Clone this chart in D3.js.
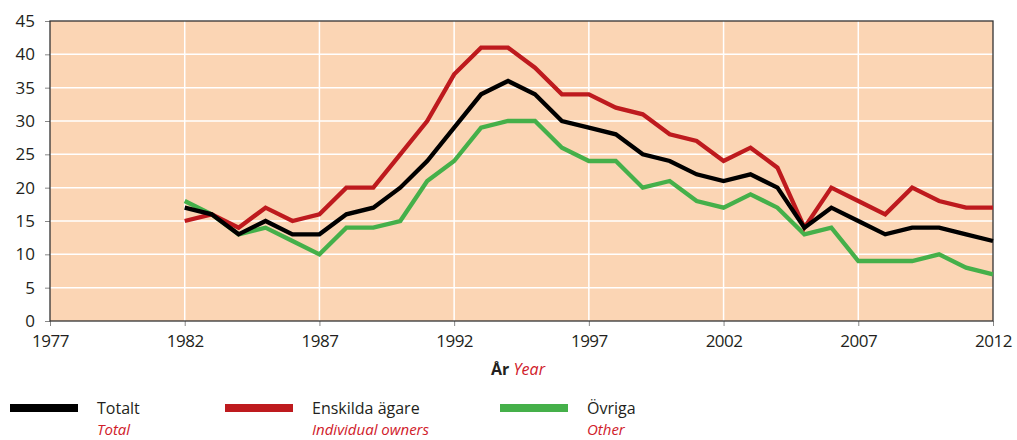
<!DOCTYPE html>
<html lang="sv">
<head>
<meta charset="UTF-8">
<title>Ägarkategorier</title>
<script src="https://cdn.jsdelivr.net/npm/d3@7"></script>
<style>
  body { margin:0; background:#fff; }
  text { font-family:"Open Sans", "DejaVu Sans", sans-serif; fill:#231f20; }
</style>
</head>
<body>
<div id="chart"></div>
<script>
// data
var years=[1982,1983,1984,1985,1986,1987,1988,1989,1990,1991,1992,1993,1994,1995,1996,1997,
           1998,1999,2000,2001,2002,2003,2004,2005,2006,2007,2008,2009,2010,2011,2012]
var totalt=[17,16,13,15,13,13,16,17,20,24,29,34,36,34,30,29,28,25,24,22,21,22,20,14,17,15,13,14,14,13,12]
var enskilda=[15,16,14,17,15,16,20,20,25,30,37,41,41,38,34,34,32,31,28,27,24,26,23,14,20,18,16,20,18,17,17]
var ovriga=[18,16,13,14,12,10,14,14,15,21,24,29,30,30,26,24,24,20,21,18,17,19,17,13,14,9,9,9,10,8,7]
var xTicks=[1977,1982,1987,1992,1997,2002,2007,2012]
var yTicks=[0,5,10,15,20,25,30,35,40,45]
var series=[
  {sv:'Totalt', en:'Total', vals:totalt, color:'#000000'},
  {sv:'Enskilda ägare', en:'Individual owners', vals:enskilda, color:'#be1a1e'},
  {sv:'Övriga', en:'Other', vals:ovriga, color:'#45b04a'}
]

var W=1017, H=440
var margin={top:21, right:24, bottom:119, left:50}
var w=W-margin.left-margin.right, h=H-margin.top-margin.bottom

var svg=d3.select('#chart').append('svg').attr('width',W).attr('height',H)
var g=svg.append('g').attr('transform','translate('+margin.left+','+margin.top+')')

var x=d3.scaleLinear().domain([1977,2012]).range([0,w])
var y=d3.scaleLinear().domain([0,45]).range([h,0])

// background
g.append('rect').attr('width',w).attr('height',h).attr('fill','#fbd5b4')

// grid
g.selectAll('.hgrid').data(yTicks.filter(function(d){return d>0 && d<45}))
  .enter().append('line')
  .attr('x1',0).attr('x2',w)
  .attr('y1',function(d){return y(d)}).attr('y2',function(d){return y(d)})
  .attr('stroke','#fff').attr('stroke-width',1.5)
g.selectAll('.vgrid').data(xTicks.filter(function(d){return d>1977 && d<2012}))
  .enter().append('line')
  .attr('y1',0).attr('y2',h)
  .attr('x1',function(d){return x(d)}).attr('x2',function(d){return x(d)})
  .attr('stroke','#fff').attr('stroke-width',1.5)

// axes
var xAxis=g.append('g').attr('transform','translate(0,'+h+')')
  .call(d3.axisBottom(x).tickValues(xTicks).tickFormat(d3.format('d')).tickSize(5).tickPadding(9))
var yAxis=g.append('g')
  .call(d3.axisLeft(y).tickValues(yTicks).tickSize(5).tickPadding(10))
;[xAxis,yAxis].forEach(function(a){
  a.select('.domain').remove()
  a.selectAll('line').attr('stroke','#888').attr('stroke-width',1)
  a.selectAll('text').style('font-size','17px').attr('fill','#231f20')
})
xAxis.selectAll('text').style('letter-spacing','-0.5px')

// frame
g.append('rect').attr('width',w).attr('height',h)
  .attr('fill','none').attr('stroke','#333').attr('stroke-width',1.3)

// lines
var line=d3.line()
  .x(function(d,i){return x(years[i])})
  .y(function(d){return y(d)})
series.slice().reverse().forEach(function(s){
  g.append('path').datum(s.vals)
    .attr('fill','none').attr('stroke',s.color)
    .attr('stroke-width',4.3).attr('stroke-linejoin','miter')
    .attr('d',line)
})

// axis title
var title=svg.append('text').attr('x',518).attr('y',375).attr('text-anchor','middle').style('font-size','16px')
title.append('tspan').text('År').style('font-weight','bold')
title.append('tspan').text(' Year').style('font-style','italic').style('fill','#d0202a')

// legend
var legX=[10,225,500]
series.forEach(function(s,i){
  var lg=svg.append('g').attr('transform','translate('+legX[i]+',0)')
  lg.append('rect').attr('x',0).attr('y',404).attr('width',68).attr('height',8).attr('fill',s.color)
  lg.append('text').attr('x',87).attr('y',414).style('font-size','16px').text(s.sv)
  lg.append('text').attr('x',87).attr('y',435).style('font-size','15px').style('font-style','italic')
    .style('fill','#d0202a').text(s.en)
})
</script>
</body>
</html>
